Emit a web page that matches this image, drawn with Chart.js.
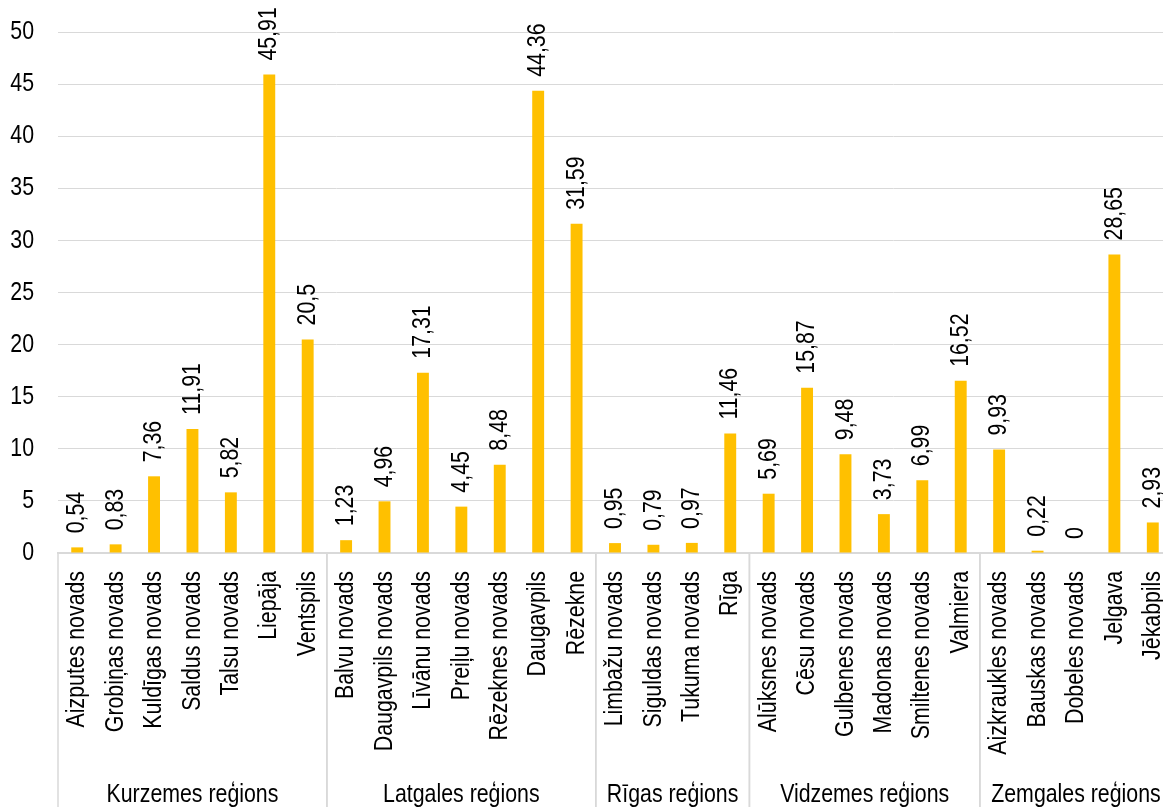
<!DOCTYPE html>
<html lang="lv">
<head>
<meta charset="utf-8">
<title>Novadi un pilsētas pa reģioniem</title>
<script src="https://cdn.jsdelivr.net/npm/chart.js@4.4.1/dist/chart.umd.min.js"></script>
<style>
  html, body { margin: 0; padding: 0; background: #fff; overflow: hidden; }
  canvas { display: block; }
</style>
</head>
<body>
<canvas id="regions-chart" width="1172" height="807"></canvas>
<script>
// Kategorijas (novadi un pilsētas)
const categories = [
  'Aizputes novads', 'Grobiņas novads', 'Kuldīgas novads', 'Saldus novads', 'Talsu novads', 'Liepāja', 'Ventspils',
  'Balvu novads', 'Daugavpils novads', 'Līvānu novads', 'Preiļu novads', 'Rēzeknes novads', 'Daugavpils', 'Rēzekne',
  'Limbažu novads', 'Siguldas novads', 'Tukuma novads', 'Rīga',
  'Alūksnes novads', 'Cēsu novads', 'Gulbenes novads', 'Madonas novads', 'Smiltenes novads', 'Valmiera',
  'Aizkraukles novads', 'Bauskas novads', 'Dobeles novads', 'Jelgava', 'Jēkabpils',
];

// Vērtības katrai kategorijai
const values = [
  0.54, 0.83, 7.36, 11.91, 5.82, 45.91, 20.5,
  1.23, 4.96, 17.31, 4.45, 8.48, 44.36, 31.59,
  0.95, 0.79, 0.97, 11.46,
  5.69, 15.87, 9.48, 3.73, 6.99, 16.52,
  9.93, 0.22, 0, 28.65, 2.93,
];

// Reģioni un cik kategoriju katrā
const regionNames = ['Kurzemes reģions', 'Latgales reģions', 'Rīgas reģions', 'Vidzemes reģions', 'Zemgales reģions'];
const regionSizes = [7, 7, 4, 6, 5];

// Y ass robežas
const yMin = 0;
const yMax = 50;
const yStep = 5;

const FONT = "26px 'Liberation Sans', Arial, sans-serif";
const NARROW = 0.82; // šaurā fonta imitācija (Arial Narrow)
const LINE_COLOR = '#d9d9d9';
const TEXT_COLOR = '#000000';

// Skaitlis ar komatu kā decimālatdalītāju
function formatValue(value) {
  return String(value).replace('.', ',');
}

// Uzraksta tekstu šaurākā formā, pagrieztu par leņķi
function drawNarrowText(ctx, text, x, y, angle, align, baseline) {
  ctx.save();
  ctx.translate(x, y);
  ctx.rotate(angle);
  ctx.scale(NARROW, 1);
  ctx.textAlign = align;
  ctx.textBaseline = baseline;
  ctx.fillText(text, 0, 0);
  ctx.restore();
}

// Ass iezīmes (Y skaitļi un kategoriju nosaukumi)
const axisLabelsPlugin = {
  id: 'axisLabels',
  afterDraw(chart) {
    const { ctx, chartArea } = chart;
    const xScale = chart.scales.x;
    const yScale = chart.scales.y;
    ctx.save();
    ctx.font = FONT;
    ctx.fillStyle = TEXT_COLOR;
    yScale.ticks.forEach((tick) => {
      const y = yScale.getPixelForValue(tick.value);
      drawNarrowText(ctx, String(tick.value), chartArea.left - 24, y, 0, 'right', 'middle');
    });
    categories.forEach((label, i) => {
      const x = xScale.getPixelForValue(i);
      drawNarrowText(ctx, label, x, chartArea.bottom + 18, -Math.PI / 2, 'right', 'middle');
    });
    ctx.restore();
  },
};

// Vērtību etiķetes virs stabiņiem (pagrieztas par 90°)
const valueLabelsPlugin = {
  id: 'valueLabels',
  afterDatasetsDraw(chart) {
    const { ctx } = chart;
    const meta = chart.getDatasetMeta(0);
    ctx.save();
    ctx.font = FONT;
    ctx.fillStyle = TEXT_COLOR;
    meta.data.forEach((bar, i) => {
      drawNarrowText(ctx, formatValue(values[i]), bar.x, bar.y - 14, -Math.PI / 2, 'left', 'middle');
    });
    ctx.restore();
  },
};

// Reģionu atdalītāji un nosaukumi zem ass
const regionGroupsPlugin = {
  id: 'regionGroups',
  afterDraw(chart) {
    const { ctx, chartArea } = chart;
    const xScale = chart.scales.x;
    const step = xScale.getPixelForValue(1) - xScale.getPixelForValue(0);
    const bottom = chart.height;
    ctx.save();
    ctx.strokeStyle = LINE_COLOR;
    ctx.lineWidth = 1.5;
    ctx.font = FONT;
    ctx.fillStyle = TEXT_COLOR;

    let startIndex = 0;
    regionNames.forEach((name, r) => {
      const endIndex = startIndex + regionSizes[r];
      const leftX = xScale.getPixelForValue(startIndex) - step / 2;
      const rightX = xScale.getPixelForValue(endIndex - 1) + step / 2;
      ctx.beginPath();
      ctx.moveTo(leftX, chartArea.bottom);
      ctx.lineTo(leftX, bottom);
      ctx.moveTo(rightX, chartArea.bottom);
      ctx.lineTo(rightX, bottom);
      ctx.stroke();
      drawNarrowText(ctx, name, (leftX + rightX) / 2, bottom - 5, 0, 'center', 'alphabetic');
      startIndex = endIndex;
    });
    ctx.restore();
  },
};

const chartCanvas = document.getElementById('regions-chart');

new Chart(chartCanvas, {
  type: 'bar',
  data: {
    labels: categories,
    datasets: [
      {
        data: values,
        backgroundColor: '#ffc000',
        borderWidth: 0,
        barPercentage: 0.31,
        categoryPercentage: 1,
      },
    ],
  },
  options: {
    responsive: false,
    animation: false,
    layout: {
      padding: { top: 32, right: 0, bottom: 0, left: 0 },
    },
    plugins: {
      legend: { display: false },
      tooltip: { enabled: false },
    },
    scales: {
      x: {
        grid: { display: false, drawTicks: false },
        border: { color: LINE_COLOR, width: 2 },
        ticks: { display: false, autoSkip: false },
        afterFit(scale) {
          scale.height = 254;
          scale.paddingLeft = 0;
          scale.paddingRight = 0;
        },
      },
      y: {
        min: yMin,
        max: yMax,
        grid: { color: LINE_COLOR, lineWidth: 1, drawTicks: false },
        border: { display: false },
        ticks: { display: false, stepSize: yStep },
        afterFit(scale) {
          scale.width = 58;
          scale.paddingTop = 0;
          scale.paddingBottom = 0;
        },
      },
    },
  },
  plugins: [valueLabelsPlugin, axisLabelsPlugin, regionGroupsPlugin],
});
</script>
</body>
</html>
